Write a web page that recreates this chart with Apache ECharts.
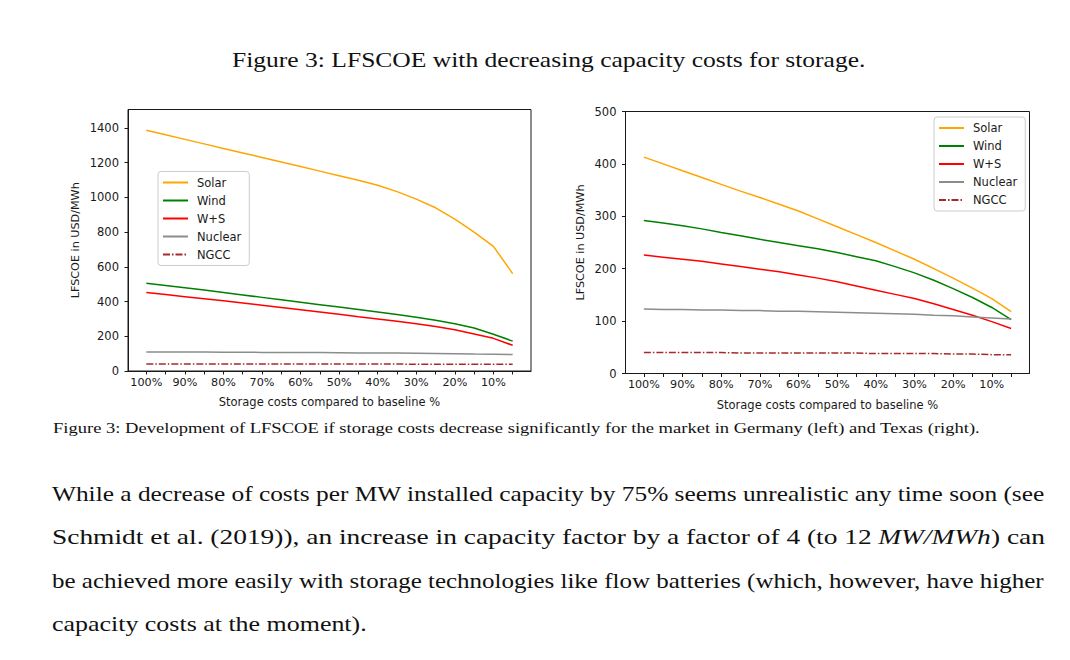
<!DOCTYPE html>
<html>
<head>
<meta charset="utf-8">
<script src="https://cdn.jsdelivr.net/npm/echarts@6/dist/echarts.min.js"></script>
<style>
html,body{margin:0;padding:0;background:#fff;}
#chart{width:1070px;height:660px;}
</style>
</head>
<body>
<div id="chart"></div>
<script>
// ---------------- data ----------------
const storagePct = [100,95,90,85,80,75,70,65,60,55,50,45,40,35,30,25,20,15,10,5];
const xTickLabels = ['100%','90%','80%','70%','60%','50%','40%','30%','20%','10%'];
const yTicksGermany = [0,200,400,600,800,1000,1200,1400];
const yTicksTexas = [0,100,200,300,400,500];
const seriesNames = ['Solar','Wind','W+S','Nuclear','NGCC'];

// Germany (left)
const deSolar   = [1386,1360,1334,1308,1282,1256,1230,1204,1178,1151,1125,1098,1070,1033,990,940,875,800,718,561];
const deWind    = [505,492,479,466,452,438,424,410,396,382,368,354,340,325,309,292,272,248,212,172];
const deWS      = [452,440,428,416,404,392,379,366,353,340,327,313,300,286,272,256,237,213,188,148];
const deNuclear = [110,110,109,109,108,108,107,107,106,106,105,104,104,103,102,101,100,98,97,95];
const deNGCC    = [40,40,40,40,40,40,40,40,40,40,40,40,40,40,39,39,39,39,39,39];

// Texas (right)
const txSolar   = [413,400,387,374,361,348,336,323,310,295,280,265,250,234,218,200,182,163,143,118];
const txWind    = [292,287,282,276,269,263,256,250,244,238,231,223,215,204,192,178,162,145,126,103];
const txWS      = [226,222,218,214,209,204,199,194,188,182,175,167,159,151,143,133,122,111,99,86];
const txNuclear = [123,122,122,121,121,120,120,119,119,118,117,116,115,114,113,111,110,108,106,104];
const txNGCC    = [40,40,40,40,40,39,39,39,39,39,39,39,38,38,38,38,37,37,36,36];

// texts
const figTitle = 'Figure 3: LFSCOE with decreasing capacity costs for storage.';
const figCaption = 'Figure 3: Development of LFSCOE if storage costs decrease significantly for the market in Germany (left) and Texas (right).';
const paragraphLines = [
  [{t:'While a decrease of costs per MW installed capacity by 75% seems unrealistic any time soon (see'}],
  [{t:'Schmidt et al. (2019)), an increase in capacity factor by a factor of 4 (to 12\u2009'},{t:'MW/MWh',i:true},{t:') can'}],
  [{t:'be achieved more easily with storage technologies like flow batteries (which, however, have higher'}],
  [{t:'capacity costs at the moment).'}]
];
const yAxisName = 'LFSCOE in USD/MWh';
const xAxisName = 'Storage costs compared to baseline %';

// ---------------- styling ----------------
const colors = {Solar:'#FFA500', Wind:'#008000', 'W+S':'#FF0000', Nuclear:'#8c8c8c', NGCC:'#a52a2a'};
const ink = '#1a1a1a';
const serif = '"Liberation Serif", "DejaVu Serif", serif';

// text layout helper (stretches each line to the printed width)
const mctx = document.createElement('canvas').getContext('2d');
function textLine(segs, x0, x1, yMid, size) {
  const widths = segs.map(s => {
    mctx.font = (s.i ? 'italic ' : '') + size + 'px ' + serif;
    return mctx.measureText(s.t).width;
  });
  const total = widths.reduce((a,b)=>a+b,0);
  const sc = (x1 - x0) / total;
  const out = [];
  let cx = x0;
  segs.forEach((s, k) => {
    out.push({
      type:'text', x: cx, y: yMid, scaleX: sc, silent:true,
      style:{text:s.t, fontFamily:serif, fontSize:size, fontStyle: s.i ? 'italic' : 'normal',
             fill:'#111', align:'left', verticalAlign:'middle'}
    });
    cx += widths[k] * sc;
  });
  return out;
}

let graphics = [];
graphics = graphics.concat(textLine([{t:figTitle}], 232, 866, 60, 21));
graphics = graphics.concat(textLine([{t:figCaption}], 53, 981, 428, 15));
const paraY = [493.5, 537, 580.5, 624];
const paraRight = [1045, 1045, 1045, 367];
paragraphLines.forEach((segs, k) => {
  graphics = graphics.concat(textLine(segs, 52, paraRight[k], paraY[k], 21.5));
});

const xTickVals = xTickLabels.map(s => parseFloat(s));

function makeX(gi) {
  return {
    type:'value', gridIndex:gi, inverse:true, min:0.25, max:104.75,
    splitLine:{show:false},
    axisLine:{show:true, onZero:false, lineStyle:{color:ink, width:1}},
    axisTick:{show:true, customValues:storagePct, length:3.5, lineStyle:{color:ink, width:1}},
    axisLabel:{customValues:xTickVals, formatter: v => xTickLabels[xTickVals.indexOf(v)] || '', color:ink, fontSize:11.2, margin:5.5},
    name:xAxisName, nameLocation:'middle', nameGap:25,
    nameTextStyle:{color:ink, fontSize:11.5}
  };
}
function makeY(gi, max, ticks, gap) {
  return {
    type:'value', gridIndex:gi, min:0, max:max,
    splitLine:{show:false},
    axisLine:{show:true, onZero:false, lineStyle:{color:ink, width:1}},
    axisTick:{show:true, customValues:ticks, length:3.5, lineStyle:{color:ink, width:1}},
    axisLabel:{customValues:ticks, formatter: v => String(v), color:ink, fontSize:11.5, margin:9},
    name:yAxisName, nameLocation:'middle', nameGap:gap, nameRotate:90,
    nameTextStyle:{color:ink, fontSize:11.2}
  };
}
function makeSeries(name, vals, gi) {
  const dashed = name === 'NGCC';
  return {
    type:'line', name:name, xAxisIndex:gi, yAxisIndex:gi,
    data: storagePct.map((p,i)=>[p, vals[i]]),
    symbol:'none', smooth:false, silent:true,
    color: colors[name],
    lineStyle:{color:colors[name], width:1.5, type: dashed ? [7,2,1.5,2] : 'solid', cap:'butt'},
    emphasis:{disabled:true}
  };
}
function makeLegend(left, top) {
  return {
    orient:'vertical', left:left, top:top, data:seriesNames,
    itemWidth:25, itemHeight:10, itemGap:6,
    padding:[5,8,5,4],
    itemStyle:{opacity:0},
    backgroundColor:'rgba(255,255,255,0.85)', borderColor:'#cccccc', borderWidth:1, borderRadius:3,
    textStyle:{color:ink, fontSize:11.5, padding:[0,0,0,4]},
    selectedMode:false
  };
}

const deData = {Solar:deSolar, Wind:deWind, 'W+S':deWS, Nuclear:deNuclear, NGCC:deNGCC};
const txData = {Solar:txSolar, Wind:txWind, 'W+S':txWS, Nuclear:txNuclear, NGCC:txNGCC};

const option = {
  backgroundColor:'#fff',
  animation:false,
  textStyle:{fontFamily:'"DejaVu Sans", sans-serif'},
  grid:[
    {left:128, top:109.5, width:403, height:261.5, show:true, borderColor:ink, borderWidth:1, backgroundColor:'transparent'},
    {left:625.5, top:111.5, width:404, height:262, show:true, borderColor:ink, borderWidth:1, backgroundColor:'transparent'}
  ],
  xAxis:[makeX(0), makeX(1)],
  yAxis:[makeY(0, 1506, yTicksGermany, 47), makeY(1, 500, yTicksTexas, 40)],
  legend:[makeLegend(158, 171.5), makeLegend(934, 117)],
  series: seriesNames.map(n => makeSeries(n, deData[n], 0)).concat(seriesNames.map(n => makeSeries(n, txData[n], 1))),
  graphic: graphics
};

const chart = echarts.init(document.getElementById('chart'), null, {renderer:'svg'});
chart.setOption(option);
</script>
</body>
</html>
